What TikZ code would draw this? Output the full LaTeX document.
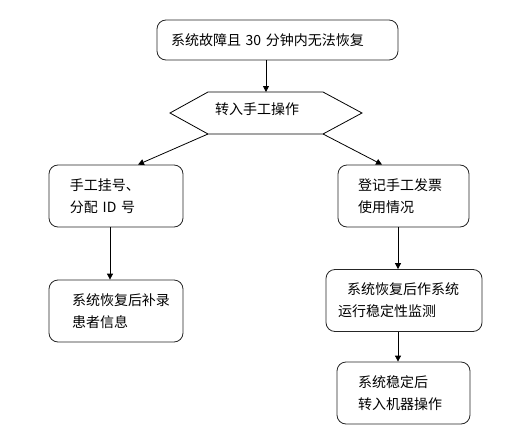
\documentclass[tikz,border=0pt]{standalone}
\usepackage{fontspec}
\newfontfamily\cjk{Noto Sans CJK SC}
\usetikzlibrary{arrows.meta}
\begin{document}
\begin{tikzpicture}[x=1pt, y=-1pt, >={Triangle[length=6pt,width=6pt]},
  every node/.style={font=\cjk\fontsize{14}{22}\selectfont},
  box/.style={draw=black!85, line width=0.8pt, rounded corners=9pt, align=left, inner ysep=0pt, minimum height=62pt},
  flow/.style={->, line width=0.8pt}]
  \useasboundingbox (0,0) rectangle (515,434);
  % start and decision
  \node[box, minimum height=40pt, minimum width=241pt, text width=213pt, inner xsep=14pt] (fail) at (277.5,40) {系统故障且 30 分钟内无法恢复};
  \coordinate (hextop) at (266,92);
  \coordinate (hexbl) at (208,134);
  \coordinate (hexbr) at (323,134);
  \draw[line width=0.8pt] (170,113) -- (208,92) -- (323,92) -- (362,113) -- (hexbr) -- (hexbl) -- cycle;
  \node (turn) at (257,109) {转入手工操作};
  % left branch
  \node[box, minimum width=134pt, text width=92pt, inner xsep=21pt] (manual) at (116,196) {手工挂号、\\分配 ID 号};
  \node[box, minimum width=134pt, text width=88pt, inner xsep=23pt] (backfill) at (116,311) {系统恢复后补录\\患者信息};
  % right branch
  \node[box, minimum width=131pt, text width=91pt, inner xsep=20pt] (invoice) at (403.5,196) {登记手工发票\\使用情况};
  \node[box, minimum width=156pt, text width=132pt, inner xsep=12pt] (monitor) at (404,300.5) {\hspace*{9pt}系统恢复后作系统\\运行稳定性监测};
  \node[box, minimum width=133pt, text width=91pt, inner xsep=21pt] (resume) at (403.5,393) {系统稳定后\\转入机器操作};
  % connectors
  \draw[flow] ([xshift=-11.5pt]fail.south) -- (hextop);
  \draw[flow] (hexbl) -- ([xshift=22pt]manual.north);
  \draw[flow] (hexbr) -- ([xshift=-21.5pt]invoice.north);
  \draw[flow] ([xshift=-6pt]manual.south) -- ([xshift=-6pt]backfill.north);
  \draw[flow] ([xshift=-5.5pt]invoice.south) -- ([xshift=-6pt]monitor.north);
  \draw[flow] ([xshift=-6pt]monitor.south) -- ([xshift=-5.5pt]resume.north);
\end{tikzpicture}
\end{document}
